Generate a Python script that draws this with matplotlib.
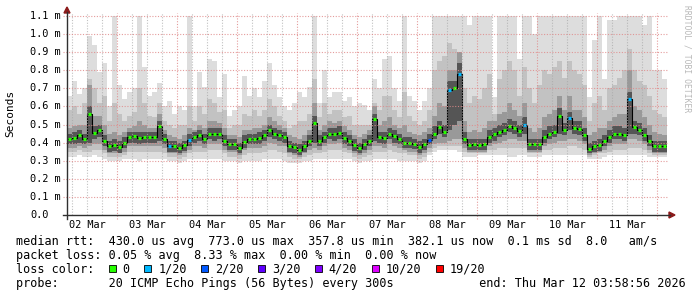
import matplotlib
matplotlib.use("Agg")
import matplotlib.pyplot as plt
import matplotlib.dates as mdates
from matplotlib.patches import Rectangle
from matplotlib.lines import Line2D
from matplotlib.patches import Polygon
from datetime import datetime, timedelta

# ---------------- data (values in milliseconds, 2-hour slots) ----------------
END_TIME = datetime(2026, 3, 12, 3, 58, 56)
SLOT_HOURS = 2

median = [
    0.42, 0.425, 0.44, 0.42, 0.56, 0.455, 0.47, 0.41, 0.38, 0.385, 0.375, 0.40,
    0.43, 0.435, 0.425, 0.43, 0.43, 0.43, 0.49, 0.42, 0.38, 0.38, 0.37, 0.385,
    0.415, 0.43, 0.44, 0.42, 0.45, 0.445, 0.45, 0.41, 0.39, 0.39, 0.37, 0.405,
    0.42, 0.42, 0.425, 0.44, 0.47, 0.45, 0.44, 0.43, 0.38, 0.375, 0.36, 0.38,
    0.41, 0.51, 0.41, 0.43, 0.45, 0.445, 0.455, 0.425, 0.41, 0.385, 0.37, 0.39,
    0.41, 0.53, 0.43, 0.425, 0.45, 0.435, 0.42, 0.40, 0.40, 0.395, 0.375, 0.39,
    0.415, 0.45, 0.485, 0.46, 0.69, 0.70, 0.78, 0.42, 0.385, 0.39, 0.385, 0.39,
    0.43, 0.445, 0.46, 0.47, 0.49, 0.48, 0.465, 0.50, 0.39, 0.39, 0.39, 0.43,
    0.45, 0.46, 0.55, 0.47, 0.535, 0.48, 0.478, 0.44, 0.365, 0.38, 0.385, 0.41,
    0.43, 0.45, 0.45, 0.44, 0.64, 0.485, 0.47, 0.44, 0.41, 0.38, 0.38, 0.38,
]
loss = [0] * 120
for _i, _l in [(20, 1), (24, 1), (72, 2), (76, 1), (78, 1), (91, 1), (100, 1), (112, 1)]:
    loss[_i] = _l

ping_max = [
    0.66, 0.74, 0.67, 0.70, 0.99, 0.94, 0.79, 0.84, 0.60, 1.10, 0.72, 0.64,
    0.68, 0.70, 1.10, 0.82, 0.66, 0.68, 0.73, 0.60, 0.63, 0.56, 0.60, 0.58,
    1.10, 0.60, 0.79, 0.71, 0.86, 0.85, 0.65, 0.78, 0.55, 0.58, 0.60, 0.77,
    0.66, 0.70, 0.65, 0.74, 0.84, 0.72, 0.65, 0.60, 0.58, 0.62, 0.68, 0.65,
    0.71, 1.10, 0.62, 0.80, 0.65, 0.68, 0.68, 0.63, 0.65, 0.60, 0.62, 0.61,
    0.58, 0.75, 0.70, 0.86, 0.88, 0.70, 0.63, 1.10, 0.66, 0.63, 0.58, 0.63,
    0.70, 1.10, 1.10, 1.10, 1.10, 1.10, 1.10, 1.10, 1.05, 1.10, 1.10, 1.10,
    1.10, 0.65, 1.10, 1.10, 1.10, 1.10, 0.86, 1.10, 1.10, 1.00, 1.10, 1.10,
    1.10, 1.10, 1.10, 1.10, 1.10, 1.10, 1.10, 1.10, 0.65, 0.97, 1.10, 0.75,
    1.08, 1.08, 1.10, 1.10, 1.10, 1.10, 1.10, 1.05, 1.10, 0.80, 0.80, 0.75,
]
ping_p90 = [
    0.58, 0.60, 0.56, 0.62, 0.75, 0.70, 0.62, 0.66, 0.52, 0.62, 0.56, 0.52,
    0.55, 0.57, 0.70, 0.62, 0.55, 0.54, 0.62, 0.52, 0.50, 0.48, 0.50, 0.50,
    0.60, 0.52, 0.60, 0.56, 0.64, 0.62, 0.57, 0.58, 0.48, 0.50, 0.50, 0.56,
    0.55, 0.58, 0.55, 0.58, 0.64, 0.60, 0.55, 0.52, 0.48, 0.50, 0.52, 0.52,
    0.56, 0.75, 0.54, 0.62, 0.56, 0.58, 0.58, 0.54, 0.55, 0.50, 0.50, 0.50,
    0.50, 0.62, 0.58, 0.66, 0.66, 0.58, 0.54, 0.68, 0.55, 0.52, 0.50, 0.52,
    0.58, 0.80, 0.85, 0.88, 0.95, 0.92, 0.90, 0.70, 0.62, 0.66, 0.64, 0.70,
    0.78, 0.56, 0.75, 0.80, 0.85, 0.80, 0.66, 0.82, 0.70, 0.62, 0.72, 0.80,
    0.78, 0.82, 0.85, 0.76, 0.85, 0.80, 0.78, 0.72, 0.52, 0.62, 0.66, 0.58,
    0.70, 0.72, 0.76, 0.80, 0.92, 0.80, 0.74, 0.72, 0.66, 0.58, 0.56, 0.54,
]
ping_p75 = [
    0.48, 0.49, 0.50, 0.50, 0.72, 0.55, 0.55, 0.50, 0.45, 0.46, 0.44, 0.46,
    0.48, 0.49, 0.52, 0.50, 0.48, 0.48, 0.56, 0.47, 0.44, 0.43, 0.42, 0.44,
    0.48, 0.47, 0.50, 0.48, 0.52, 0.52, 0.51, 0.48, 0.44, 0.44, 0.43, 0.47,
    0.47, 0.48, 0.48, 0.50, 0.54, 0.52, 0.50, 0.48, 0.44, 0.43, 0.42, 0.44,
    0.47, 0.62, 0.47, 0.50, 0.52, 0.51, 0.52, 0.49, 0.47, 0.44, 0.43, 0.45,
    0.47, 0.60, 0.50, 0.52, 0.54, 0.50, 0.48, 0.50, 0.46, 0.45, 0.44, 0.46,
    0.48, 0.55, 0.62, 0.60, 0.80, 0.80, 0.90, 0.52, 0.46, 0.47, 0.46, 0.48,
    0.52, 0.52, 0.56, 0.57, 0.62, 0.58, 0.55, 0.62, 0.48, 0.46, 0.48, 0.54,
    0.56, 0.58, 0.66, 0.58, 0.66, 0.58, 0.58, 0.54, 0.44, 0.46, 0.48, 0.48,
    0.52, 0.54, 0.56, 0.56, 0.80, 0.60, 0.58, 0.54, 0.50, 0.46, 0.45, 0.44,
]
ping_p60 = [
    0.45, 0.46, 0.47, 0.45, 0.60, 0.49, 0.50, 0.44, 0.41, 0.42, 0.41, 0.43,
    0.46, 0.46, 0.46, 0.46, 0.46, 0.46, 0.52, 0.45, 0.41, 0.41, 0.40, 0.41,
    0.45, 0.46, 0.47, 0.45, 0.48, 0.48, 0.48, 0.44, 0.42, 0.42, 0.40, 0.44,
    0.45, 0.45, 0.46, 0.47, 0.50, 0.48, 0.47, 0.46, 0.41, 0.40, 0.39, 0.41,
    0.44, 0.55, 0.44, 0.46, 0.48, 0.48, 0.49, 0.46, 0.44, 0.42, 0.40, 0.42,
    0.44, 0.56, 0.46, 0.46, 0.48, 0.47, 0.45, 0.43, 0.43, 0.42, 0.41, 0.42,
    0.45, 0.49, 0.52, 0.50, 0.74, 0.74, 0.84, 0.46, 0.42, 0.42, 0.42, 0.42,
    0.47, 0.48, 0.50, 0.51, 0.53, 0.52, 0.50, 0.54, 0.42, 0.42, 0.42, 0.47,
    0.49, 0.50, 0.59, 0.51, 0.57, 0.52, 0.52, 0.48, 0.40, 0.41, 0.42, 0.44,
    0.47, 0.49, 0.49, 0.48, 0.68, 0.52, 0.51, 0.48, 0.44, 0.41, 0.41, 0.41,
]
ping_p40 = [
    0.39, 0.39, 0.40, 0.39, 0.40, 0.42, 0.43, 0.38, 0.35, 0.355, 0.345, 0.37,
    0.40, 0.40, 0.39, 0.40, 0.40, 0.40, 0.41, 0.39, 0.35, 0.35, 0.34, 0.355,
    0.38, 0.40, 0.41, 0.39, 0.42, 0.41, 0.42, 0.38, 0.36, 0.36, 0.34, 0.37,
    0.39, 0.39, 0.39, 0.41, 0.43, 0.42, 0.41, 0.40, 0.35, 0.345, 0.33, 0.35,
    0.38, 0.40, 0.38, 0.40, 0.42, 0.41, 0.42, 0.39, 0.38, 0.355, 0.34, 0.36,
    0.38, 0.41, 0.40, 0.39, 0.42, 0.40, 0.39, 0.37, 0.37, 0.365, 0.345, 0.36,
    0.39, 0.42, 0.45, 0.43, 0.47, 0.50, 0.52, 0.39, 0.36, 0.36, 0.36, 0.36,
    0.40, 0.41, 0.43, 0.44, 0.46, 0.45, 0.43, 0.45, 0.36, 0.36, 0.36, 0.40,
    0.42, 0.43, 0.45, 0.44, 0.47, 0.45, 0.44, 0.41, 0.34, 0.35, 0.355, 0.38,
    0.40, 0.42, 0.42, 0.41, 0.45, 0.45, 0.44, 0.41, 0.38, 0.35, 0.35, 0.35,
]
ping_p25 = [
    0.37, 0.37, 0.38, 0.37, 0.38, 0.39, 0.39, 0.36, 0.34, 0.34, 0.34, 0.35,
    0.38, 0.38, 0.38, 0.38, 0.38, 0.38, 0.38, 0.37, 0.34, 0.34, 0.33, 0.34,
    0.36, 0.38, 0.38, 0.37, 0.39, 0.39, 0.39, 0.36, 0.35, 0.35, 0.33, 0.36,
    0.37, 0.37, 0.37, 0.38, 0.40, 0.39, 0.38, 0.38, 0.34, 0.33, 0.32, 0.34,
    0.36, 0.37, 0.36, 0.38, 0.39, 0.39, 0.40, 0.37, 0.36, 0.34, 0.33, 0.34,
    0.36, 0.38, 0.38, 0.37, 0.39, 0.38, 0.37, 0.36, 0.35, 0.35, 0.33, 0.34,
    0.37, 0.39, 0.40, 0.40, 0.41, 0.42, 0.42, 0.37, 0.35, 0.35, 0.35, 0.35,
    0.38, 0.39, 0.40, 0.41, 0.42, 0.42, 0.41, 0.41, 0.35, 0.35, 0.35, 0.38,
    0.39, 0.40, 0.41, 0.41, 0.42, 0.42, 0.41, 0.39, 0.33, 0.34, 0.35, 0.36,
    0.38, 0.39, 0.39, 0.39, 0.42, 0.42, 0.41, 0.39, 0.36, 0.34, 0.34, 0.34,
]
ping_p10 = [
    0.35, 0.35, 0.36, 0.35, 0.35, 0.36, 0.36, 0.34, 0.32, 0.32, 0.32, 0.33,
    0.35, 0.35, 0.35, 0.35, 0.35, 0.35, 0.35, 0.34, 0.32, 0.32, 0.31, 0.32,
    0.34, 0.35, 0.35, 0.35, 0.36, 0.36, 0.36, 0.34, 0.32, 0.32, 0.31, 0.33,
    0.34, 0.34, 0.34, 0.35, 0.36, 0.36, 0.35, 0.34, 0.32, 0.31, 0.31, 0.32,
    0.33, 0.34, 0.34, 0.35, 0.36, 0.36, 0.36, 0.35, 0.34, 0.32, 0.31, 0.32,
    0.33, 0.35, 0.35, 0.35, 0.36, 0.35, 0.34, 0.34, 0.33, 0.33, 0.31, 0.32,
    0.35, 0.37, 0.38, 0.38, 0.38, 0.38, 0.38, 0.35, 0.34, 0.34, 0.34, 0.34,
    0.36, 0.36, 0.37, 0.37, 0.37, 0.37, 0.37, 0.37, 0.34, 0.34, 0.34, 0.36,
    0.36, 0.37, 0.37, 0.37, 0.38, 0.38, 0.37, 0.36, 0.32, 0.33, 0.34, 0.34,
    0.35, 0.36, 0.36, 0.36, 0.37, 0.37, 0.37, 0.36, 0.34, 0.33, 0.33, 0.33,
]
ping_min = [
    0.32, 0.32, 0.33, 0.32, 0.32, 0.33, 0.32, 0.31, 0.30, 0.30, 0.30, 0.31,
    0.31, 0.31, 0.30, 0.31, 0.31, 0.31, 0.31, 0.31, 0.30, 0.30, 0.29, 0.30,
    0.31, 0.31, 0.31, 0.31, 0.31, 0.31, 0.31, 0.30, 0.30, 0.30, 0.29, 0.30,
    0.30, 0.30, 0.30, 0.31, 0.31, 0.31, 0.31, 0.30, 0.29, 0.29, 0.29, 0.30,
    0.30, 0.31, 0.31, 0.31, 0.31, 0.31, 0.31, 0.31, 0.31, 0.30, 0.29, 0.30,
    0.30, 0.31, 0.31, 0.31, 0.31, 0.31, 0.30, 0.30, 0.30, 0.30, 0.29, 0.30,
    0.33, 0.35, 0.36, 0.36, 0.36, 0.36, 0.35, 0.32, 0.32, 0.32, 0.33, 0.33,
    0.33, 0.33, 0.33, 0.33, 0.32, 0.32, 0.33, 0.33, 0.32, 0.32, 0.32, 0.33,
    0.33, 0.33, 0.33, 0.33, 0.33, 0.33, 0.33, 0.33, 0.31, 0.31, 0.31, 0.32,
    0.33, 0.33, 0.33, 0.33, 0.33, 0.33, 0.33, 0.33, 0.32, 0.32, 0.32, 0.32,
]

loss_levels = ["0", "1/20", "2/20", "3/20", "4/20", "10/20", "19/20"]
loss_colors = ["#26ff00", "#00b8ff", "#0059ff", "#5e00ff", "#7e00ff", "#dd00ff", "#ff0000"]
y_ticks = [0.0, 0.1, 0.2, 0.3, 0.4, 0.5, 0.6, 0.7, 0.8, 0.9, 1.0, 1.1]
day_labels = ["02 Mar", "03 Mar", "04 Mar", "05 Mar", "06 Mar",
              "07 Mar", "08 Mar", "09 Mar", "10 Mar", "11 Mar"]

line_rtt = "median rtt:  430.0 us avg  773.0 us max  357.8 us min  382.1 us now  0.1 ms sd  8.0   am/s"
line_loss = "packet loss: 0.05 % avg  8.33 % max  0.00 % min  0.00 % now"
line_probe = "probe:       20 ICMP Echo Pings (56 Bytes) every 300s            end: Thu Mar 12 03:58:56 2026"

# ---------------- layout ----------------
W, H = 697, 297
fig = plt.figure(figsize=(W / 100, H / 100), dpi=100)
fig.patch.set_facecolor("white")
L, R, T, B = 67, 667, 16, 215
ax = fig.add_axes([L / W, 1 - B / H, (R - L) / W, (B - T) / H])
ax.set_facecolor("white")
for s in ax.spines.values():
    s.set_visible(False)
ax.set_xticks([])
ax.set_yticks([])


def fx(x):
    return x / W


def fy(y):
    return 1 - y / H


MONO = "DejaVu Sans Mono"
t_start = END_TIME - timedelta(days=10)
n = len(median)
edges = mdates.date2num([t_start + timedelta(hours=SLOT_HOURS * i) for i in range(n + 1)])
ax.set_xlim(mdates.date2num(t_start), mdates.date2num(END_TIME))
ax.set_ylim(0, 1.1)


def ext(a):
    return list(a) + [a[-1]]


# smoke bands (outer = lightest, inner = darkest)
for lo_a, hi_a, col in [(ping_min, ping_max, "#dddddd"),
                        (ping_p10, ping_p90, "#c2c2c2"),
                        (ping_p25, ping_p75, "#999999"),
                        (ping_p40, ping_p60, "#555555")]:
    ax.fill_between(edges, ext(lo_a), ext(hi_a), step="post", color=col, lw=0, zorder=1)

# median: black step line + coloured loss marks
ax.step(edges, ext(median), where="post", color="black", lw=0.8, zorder=3)
slot_w = edges[1] - edges[0]
for i in range(n):
    ax.hlines(median[i], edges[i] + 0.2 * slot_w, edges[i] + 0.8 * slot_w,
              color=loss_colors[loss[i]], lw=2.3, zorder=4)

# grid
xt = ax.get_xaxis_transform()
yt = ax.get_yaxis_transform()
day0 = datetime(2026, 3, 2)
for k in range(0, 41):
    t = day0 + timedelta(hours=6 * k)
    if t <= t_start or t >= END_TIME:
        continue
    xv = mdates.date2num(t)
    if t.hour == 0:
        ax.vlines(xv, -4 / 199, (215 - 13) / 199, transform=xt, colors="#e08a8a",
                  linestyles=(0, (1, 1.5)), lw=0.8, zorder=5, clip_on=False, alpha=0.85)
    else:
        ax.vlines(xv, 0, (215 - 13) / 199, transform=xt, colors="#a8a8a8",
                  linestyles=(0, (1, 1.5)), lw=0.8, zorder=5, clip_on=False, alpha=0.7)
for v in y_ticks[1:]:
    ax.hlines(v, -4 / 600, 1.002, transform=yt, colors="#e08a8a",
              linestyles=(0, (1, 1.5)), lw=0.8, zorder=5, clip_on=False, alpha=0.85)

# axes lines & arrows
fig.add_artist(Line2D([fx(L), fx(L)], [fy(219), fy(12)], color="#303030", lw=1.0))
fig.add_artist(Line2D([fx(63), fx(670)], [fy(B), fy(B)], color="#303030", lw=1.0))
fig.add_artist(Polygon([[fx(L - 3), fy(13)], [fx(L + 3), fy(13)], [fx(L), fy(7)]],
                       closed=True, color="#8b1a1a"))
fig.add_artist(Polygon([[fx(669), fy(B - 3)], [fx(669), fy(B + 3)], [fx(675), fy(B)]],
                       closed=True, color="#8b1a1a"))

# y tick labels
for v in y_ticks:
    lab = "0.0" if v == 0 else f"{v:.1f} m"
    ax.text(-37 / 600, v, lab, transform=yt, ha="left", va="center",
            fontsize=7.4, family=MONO, color="black")

# x tick labels (noon of each day)
for d, lab in enumerate(day_labels):
    xv = mdates.date2num(day0 + timedelta(days=d, hours=12))
    ax.text(xv, (215 - 228) / 199, lab, transform=xt, ha="center", va="baseline",
            fontsize=7.4, family=MONO, color="black")

fig.text(fx(10), fy(113), "Seconds", rotation=90, ha="center", va="center",
         fontsize=8, family=MONO, color="black")
fig.text(fx(687), fy(5), "RRDTOOL / TOBI OETIKER", rotation=270, ha="center", va="top",
         fontsize=5.8, family=MONO, color="#b8b8b8")

# legend
CW = 8.5 * 100 / 72 * 0.6021
fig.text(fx(16), fy(245), line_rtt, ha="left", va="baseline", fontsize=8.5, family=MONO)
fig.text(fx(16), fy(259), line_loss, ha="left", va="baseline", fontsize=8.5, family=MONO)
fig.text(fx(16), fy(287), line_probe, ha="left", va="baseline", fontsize=8.5, family=MONO)

fig.text(fx(16), fy(273), "loss color:", ha="left", va="baseline", fontsize=8.5, family=MONO)
idx = 13
for lab, col in zip(loss_levels, loss_colors):
    x0 = 16 + idx * CW + 0.5
    fig.add_artist(Rectangle((fx(x0), fy(272)), 7 / W, 7 / H, facecolor=col,
                             edgecolor="black", lw=0.6))
    fig.text(fx(16 + (idx + 2) * CW), fy(273), lab, ha="left", va="baseline",
             fontsize=8.5, family=MONO)
    idx += 2 + len(lab) + 2

fig.savefig("out.png", dpi=100, facecolor="white")
